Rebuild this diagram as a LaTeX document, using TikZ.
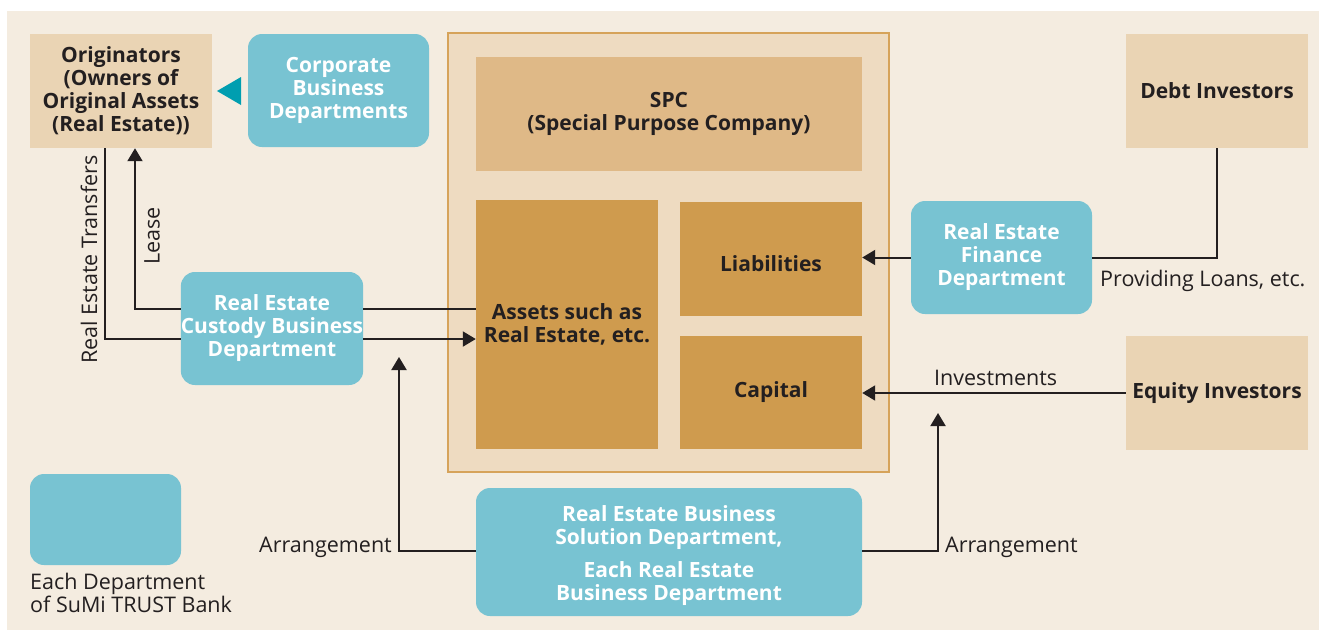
\documentclass[tikz,border=0pt]{standalone}
\usepackage{fontspec}
\setmainfont{Open Sans}
\usetikzlibrary{arrows.meta}
\definecolor{bgc}{HTML}{F4ECE0}
\definecolor{boxbeige}{HTML}{EAD4B4}
\definecolor{spcout}{HTML}{EEDBC1}
\definecolor{spcborder}{HTML}{D6A35A}
\definecolor{spcin}{HTML}{DFB987}
\definecolor{gold}{HTML}{CF9B4E}
\definecolor{teal}{HTML}{78C3D2}
\definecolor{tealdark}{HTML}{009EB0}
\definecolor{ink}{HTML}{231F20}
\tikzset{
  boldtxt/.style={font=\fontsize{21}{23}\selectfont\bfseries, text=ink, align=center},
  regtxt/.style={font=\fontsize{21.5}{23}\selectfont, text=ink, inner sep=0pt},
  plainbox/.style={boldtxt, inner sep=0pt},
  deptbox/.style={boldtxt, fill=teal, rounded corners=14pt, text=white, inner sep=0pt},
  ln/.style={draw=ink, line width=2pt},
  arr/.style={ln, -{Triangle[length=13pt,width=15pt]}},
}
\begin{document}
\begin{tikzpicture}[x=1pt,y=-1pt]
\useasboundingbox (0,0) rectangle (1319,630);
\fill[white] (0,0) rectangle (1319,630);
\fill[bgc] (7,11) rectangle (1319,630);

% SPC frame
\node[draw=spcborder, line width=1.5pt, fill=spcout, minimum width=441pt, minimum height=439pt, inner sep=0pt] (spcframe) at (668.5,252.5) {};
\node[plainbox, fill=spcin, minimum width=386pt, minimum height=114pt] (spc) at (669,114) {SPC\\(Special Purpose Company)};
\node[plainbox, fill=gold, minimum width=182pt, minimum height=249pt] (assets) at (567,324.5) {Assets such as\\Real Estate, etc.};
\node[plainbox, fill=gold, minimum width=182pt, minimum height=114pt,
  label={[boldtxt, yshift=-5pt]center:Liabilities}] (liab) at (771,259) {};
\node[plainbox, fill=gold, minimum width=182pt, minimum height=113pt] (capital) at (771,392.5) {Capital};

% outer boxes
\node[plainbox, fill=boxbeige, minimum width=182pt, minimum height=114pt] (orig) at (121,91) {Originators\\(Owners of\\Original Assets\\(Real Estate))};
\node[plainbox, fill=boxbeige, minimum width=182pt, minimum height=114pt] (debt) at (1217,91) {Debt Investors};
\node[plainbox, fill=boxbeige, minimum width=182pt, minimum height=114pt] (equity) at (1217,393) {Equity Investors};

% departments
\node[deptbox, minimum width=181pt, minimum height=113pt] (corp) at (338.5,90.5) {Corporate\\Business\\Departments};
\node[deptbox, minimum width=182pt, minimum height=113pt] (custody) at (272,328.5) {Real Estate\\Custody Business\\Department};
\node[deptbox, minimum width=181pt, minimum height=113pt] (finance) at (1001.5,257.5) {Real Estate\\Finance\\Department};
\node[deptbox, minimum width=386pt, minimum height=128pt,
  label={[boldtxt, text=white, yshift=-4pt]center:Real Estate Business\\Solution Department,\\[10pt]Each Real Estate\\Business Department}] (solution) at (669,552) {};
\node[deptbox, minimum width=151pt, minimum height=91pt] (legend) at (105.5,519.5) {};

% marker triangle
\fill[tealdark] (217,91) -- (241,77) -- (241,105) -- cycle;

% helper coordinates
\coordinate (xT) at (105,339);
\coordinate (xL) at (135,309);
\coordinate (aL) at (399,551);
\coordinate (aLtip) at (399,357);
\coordinate (aRtip) at (938,413);

% connectors
\draw[ln] (orig.south -| xT) |- (custody.west |- xT);
\draw[arr] (custody.west |- xL) -| (orig.south -| xL);
\draw[ln] (custody.east |- xL) -- (assets.west |- xL);
\draw[arr] (custody.east |- xT) -- (assets.west |- xT);
\draw[ln] (debt.south) |- (finance.east);
\draw[arr] (finance.west) -- (liab.east |- finance.west);
\draw[arr] (equity.west) -- (capital.east |- equity.west);
\draw[arr] (solution.west |- aL) -| (aLtip);
\draw[arr] (solution.east |- aL) -| (aRtip);

% labels
\node[regtxt, rotate=90] (ltrans) at (89,259.5) {Real Estate Transfers};
\node[regtxt, rotate=90] (llease) at (152,236) {Lease};
\node[regtxt, anchor=base west] (lloans) at (1100,286) {Providing Loans, etc.};
\node[regtxt, anchor=base west] (linv) at (934,385) {Investments};
\node[regtxt, anchor=base east] (larrl) at (392,552) {Arrangement};
\node[regtxt, anchor=base west] (larrr) at (945,552) {Arrangement};
\node[regtxt, anchor=west, align=left] (llegend) at (30,593) {Each Department\\of SuMi TRUST Bank};
\end{tikzpicture}
\end{document}
